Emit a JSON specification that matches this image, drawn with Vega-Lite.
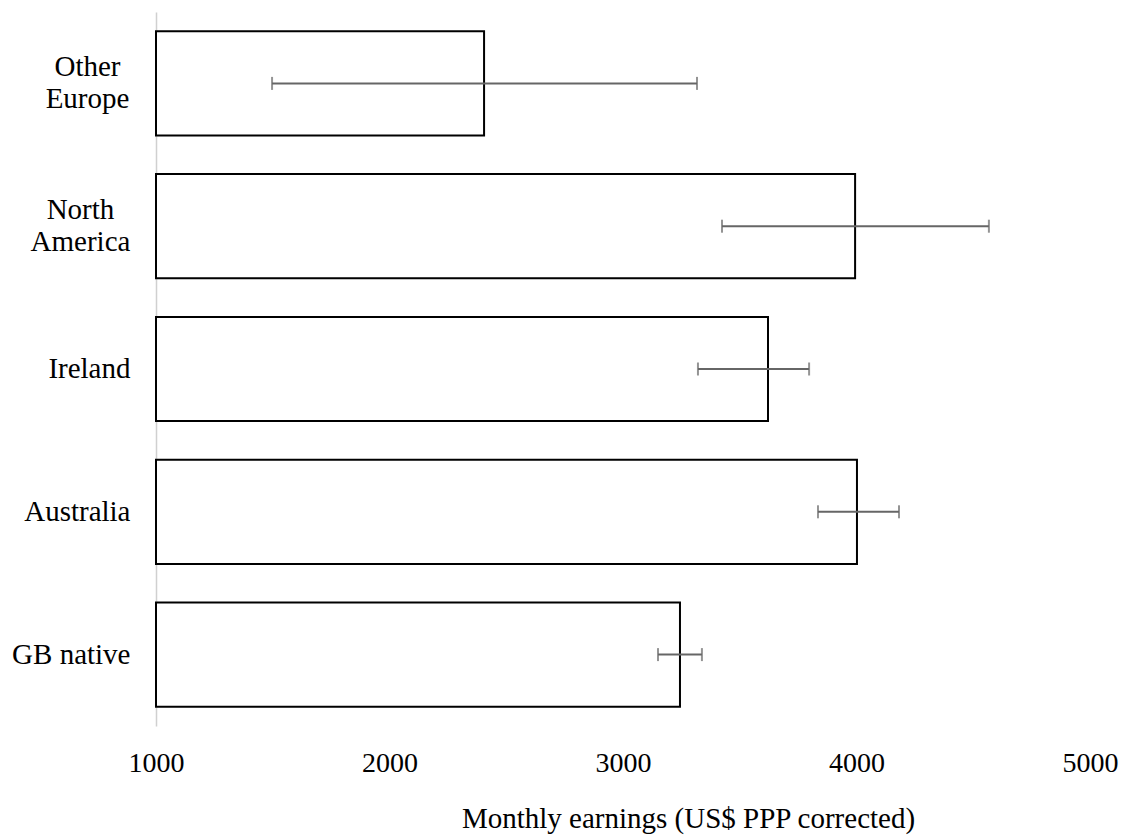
{
  "$schema": "https://vega.github.io/schema/vega-lite/v6.json",
  "autosize": {"type": "none"},
  "width": 934,
  "height": 714,
  "padding": {"left": 156, "top": 12, "right": 33, "bottom": 110},
  "background": "white",
  "config": {"view": {"stroke": null}, "font": "Liberation Serif"},
  "data": {
    "values": [
      {"region": "Other Europe", "earnings": 2405, "lo": 1497, "hi": 3317},
      {"region": "North America", "earnings": 3994, "lo": 3424, "hi": 4567},
      {"region": "Ireland", "earnings": 3621, "lo": 3321, "hi": 3797},
      {"region": "Australia", "earnings": 4002, "lo": 3835, "hi": 4182},
      {"region": "GB native", "earnings": 3244, "lo": 3150, "hi": 3338}
    ]
  },
  "encoding": {
    "y": {
      "field": "region",
      "type": "nominal",
      "sort": null,
      "scale": {"paddingInner": 0.27, "paddingOuter": 0.135},
      "axis": {
        "title": null,
        "ticks": false,
        "grid": false,
        "domainColor": "#d0d0d0",
        "domainWidth": 1.5,
        "labelFont": "Liberation Serif",
        "labelFontSize": 29,
        "labelColor": "black",
        "labelLineHeight": 32,
        "labelLimit": 300,
        "labelExpr": "datum.value == 'Other Europe' ? ['Other', 'Europe'] : datum.value == 'North America' ? ['North', 'America'] : datum.value",
        "labelAlign": {"condition": {"test": "datum.value == 'Other Europe' || datum.value == 'North America'", "value": "center"}, "value": "right"},
        "labelOffset": {"condition": {"test": "datum.value == 'Other Europe' || datum.value == 'North America'", "value": -16}, "value": 0},
        "labelPadding": {"condition": [{"test": "datum.value == 'Other Europe'", "value": 69}, {"test": "datum.value == 'North America'", "value": 76}], "value": 26}
      }
    }
  },
  "layer": [
    {
      "mark": {"type": "bar", "fill": "white", "stroke": "black", "strokeWidth": 2},
      "encoding": {
        "x": {
          "field": "earnings",
          "type": "quantitative",
          "scale": {"domain": [1000, 5000], "zero": false, "nice": false},
          "axis": {
            "title": "Monthly earnings (US$ PPP corrected)",
            "values": [1000, 2000, 3000, 4000, 5000],
            "format": "d",
            "domain": false,
            "ticks": false,
            "grid": false,
            "labelFont": "Liberation Serif",
            "labelFontSize": 28,
            "labelColor": "black",
            "labelPadding": 23,
            "labelFlush": false,
            "titleFont": "Liberation Serif",
            "titleFontSize": 29,
            "titleFontWeight": "normal",
            "titleColor": "black",
            "titlePadding": 27,
            "titleX": 532
          }
        },
        "x2": {"datum": 1000}
      }
    },
    {
      "mark": {"type": "rule", "color": "#666666", "strokeWidth": 2},
      "encoding": {
        "x": {"field": "lo", "type": "quantitative"},
        "x2": {"field": "hi"}
      }
    },
    {
      "mark": {"type": "tick", "color": "#666666", "thickness": 2, "size": 13, "orient": "vertical"},
      "encoding": {"x": {"field": "lo", "type": "quantitative"}}
    },
    {
      "mark": {"type": "tick", "color": "#666666", "thickness": 2, "size": 13, "orient": "vertical"},
      "encoding": {"x": {"field": "hi", "type": "quantitative"}}
    }
  ]
}
